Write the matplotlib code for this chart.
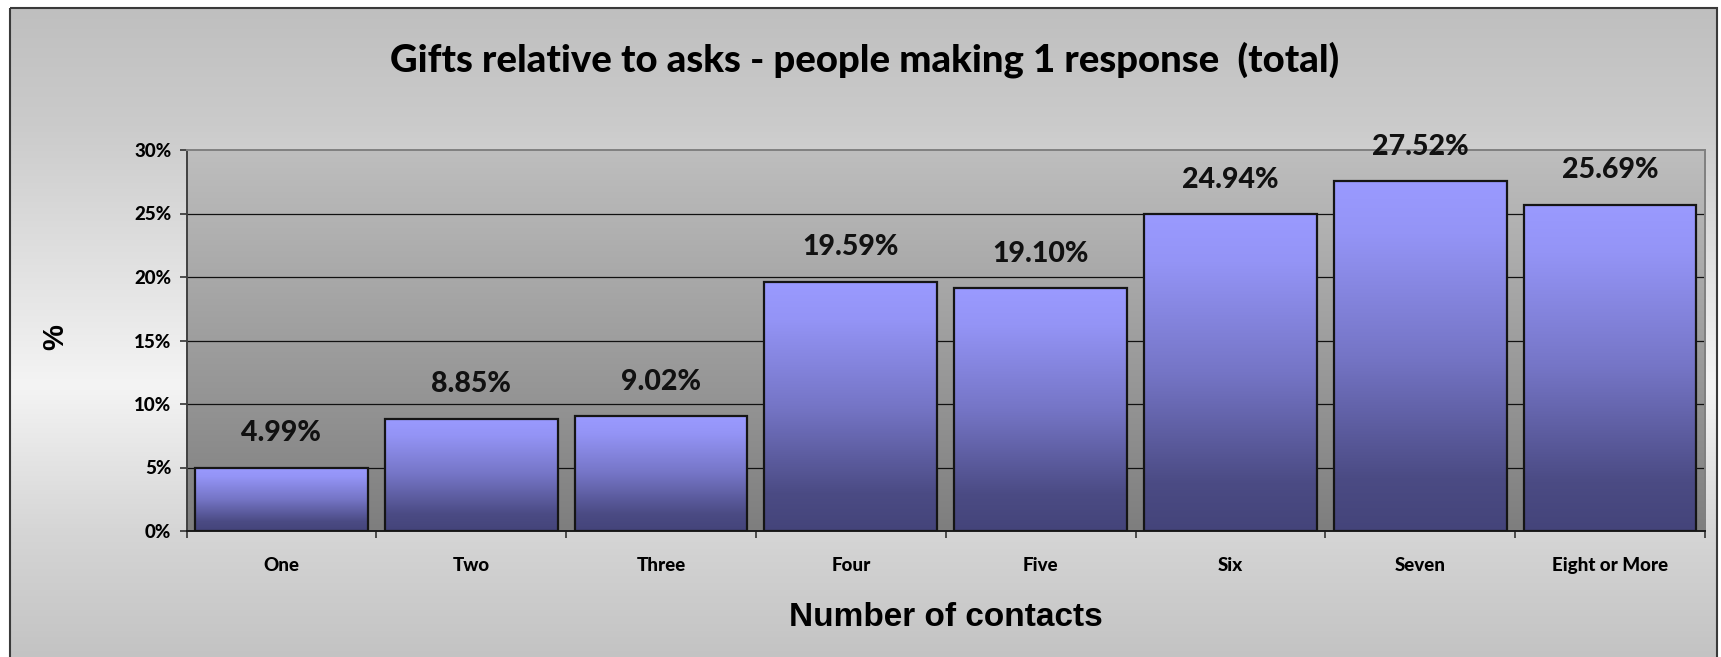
import numpy as np
import matplotlib.pyplot as plt
from matplotlib.colors import LinearSegmentedColormap
from matplotlib.patches import Rectangle

# ---- data ----
categories = ['One', 'Two', 'Three', 'Four', 'Five', 'Six', 'Seven', 'Eight or More']
gift_pct = [4.99, 8.85, 9.02, 19.59, 19.10, 24.94, 27.52, 25.69]
y_ticks = [0, 5, 10, 15, 20, 25, 30]

TITLE = 'Gifts relative to asks - people making 1 response  (total)'
XLABEL = 'Number of contacts'
YLABEL = '%'

W, H = 1721, 657
GEO = ['Lato', 'DejaVu Sans']
ARIAL = ['Liberation Sans', 'DejaVu Sans']

fig = plt.figure(figsize=(W / 100, H / 100), dpi=100, facecolor='white')

# ---- framed gradient background (pixel coordinates) ----
bg = fig.add_axes([0, 0, 1, 1])
bg.set_xlim(0, W)
bg.set_ylim(H, 0)
bg.axis('off')
bg_cmap = LinearSegmentedColormap.from_list(
    'bg', [(0.0, '#bfbfbf'), (0.18, '#cbcbcb'), (0.58, '#f4f4f4'),
           (0.80, '#d6d6d6'), (1.0, '#c3c3c3')])
grad = np.linspace(0, 1, 256).reshape(-1, 1)
bg.imshow(grad, cmap=bg_cmap, aspect='auto', extent=[10, 1717, H + 2, 8],
          origin='upper', zorder=0)
bg.add_patch(Rectangle((10, 8), 1707, H, fill=False, edgecolor='#3a3a3a',
                       linewidth=1.5, zorder=1))

# ---- plot area ----
left, right, top, bottom = 186.5, 1705, 150, 531
ax = fig.add_axes([left / W, 1 - bottom / H, (right - left) / W, (bottom - top) / H])
ax.set_facecolor('none')
n = len(categories)
x = np.arange(n)

plot_cmap = LinearSegmentedColormap.from_list('plot', ['#7e7e7e', '#bebebe'])
ax.imshow(grad[::-1], cmap=plot_cmap, aspect='auto',
          extent=[-0.5, n - 0.5, 0, 30], zorder=0)

for t in y_ticks[1:-1]:
    ax.axhline(t, color='#111111', linewidth=0.9, zorder=1)

bar_cmap = LinearSegmentedColormap.from_list(
    'bars', [(0.0, '#44447a'), (0.15, '#4b4b84'), (0.5, '#7575c6'),
             (0.85, '#9494f6'), (1.0, '#9a9aff')])
bars = ax.bar(x, gift_pct, width=0.91, facecolor='none', edgecolor='#151515',
              linewidth=1.6, zorder=3)
for rect, v in zip(bars, gift_pct):
    x0 = rect.get_x()
    im = ax.imshow(grad[::-1], cmap=bar_cmap, aspect='auto',
                   extent=[x0, x0 + rect.get_width(), 0, v], zorder=2)
    im.set_clip_path(rect)
    ax.annotate(f'{v:.2f}%', (rect.get_x() + rect.get_width() / 2, v),
                xytext=(0, 25), textcoords='offset points', ha='center',
                va='center', fontsize=20.5, fontweight='black', family=GEO,
                color='#111111', annotation_clip=False)

# restore the view limits after imshow
ax.set_xlim(-0.5, n - 0.5)
ax.set_ylim(0, 30)

# ---- spines and ticks ----
ax.spines['top'].set_color('#808080')
ax.spines['right'].set_color('#808080')
ax.spines['left'].set_color('#404040')
ax.spines['bottom'].set_color('#1a1a1a')
for s in ax.spines.values():
    s.set_linewidth(1.4)

ax.set_yticks(y_ticks)
ax.set_yticklabels([f'{t}%' for t in y_ticks], fontsize=13.5,
                   fontweight='black', family=GEO)
ax.tick_params(axis='y', length=5, width=1.2, pad=6, color='#333333')

ax.set_xticks(x)
ax.set_xticklabels(categories, fontsize=13.5, fontweight='black', family=GEO)
ax.set_xticks(np.arange(n + 1) - 0.5, minor=True)
ax.tick_params(axis='x', which='major', length=0, pad=19)
ax.tick_params(axis='x', which='minor', length=5, width=1.2, color='#333333')

# ---- titles ----
fig.text(865 / W, 1 - 60 / H, TITLE, ha='center', va='center', fontsize=27.5,
         fontweight='black', family=GEO, color='#000000')
fig.text(946 / W, 1 - 617 / H, XLABEL, ha='center', va='center', fontsize=24,
         fontweight='bold', family=ARIAL, color='#000000')
fig.text(55 / W, 1 - 337 / H, YLABEL, ha='center', va='center', fontsize=21,
         fontweight='bold', family=ARIAL, rotation=90, color='#000000')

fig.savefig('out.png', dpi=100, facecolor=fig.get_facecolor())
